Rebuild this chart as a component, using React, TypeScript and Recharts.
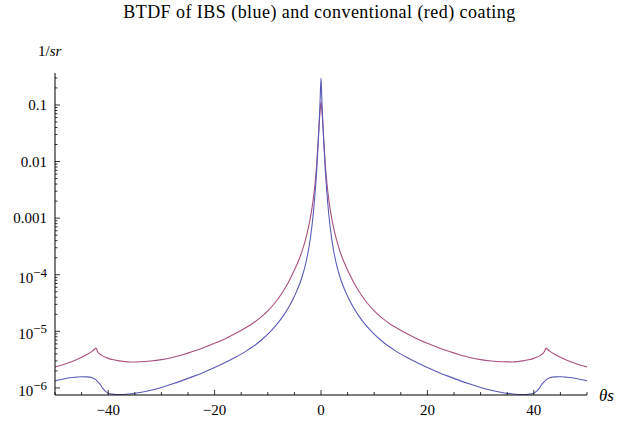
import React from 'react';
import { LineChart, Line, XAxis, YAxis } from 'recharts';

// scattering angle, degrees
const angles = [
  -50, -48, -46, -45, -44, -43, -42.6, -42.3, -42, -41.5,
  -41, -40.5, -40, -39, -38, -37, -36, -34, -32, -30,
  -28, -26, -24, -22, -20, -18, -16, -14, -13, -12,
  -11, -10, -9, -8, -7, -6, -5, -4, -3.5, -3,
  -2.5, -2, -1.5, -1, -0.8, -0.5, -0.3, -0.15, 0,
  0.15, 0.3, 0.5, 0.8, 1, 1.5, 2, 2.5, 3, 3.5,
  4, 5, 6, 7, 8, 9, 10, 11, 12, 13,
  14, 16, 18, 20, 22, 24, 26, 28, 30, 32,
  34, 36, 37, 38, 39, 40, 40.5, 41, 41.5, 42,
  42.3, 42.6, 43, 44, 45, 46, 48, 50,
];

// conventional coating (red), 1/sr
const conventional = [
  2.35e-6, 2.68e-6, 3.15e-6, 3.47e-6, 3.89e-6, 4.47e-6, 4.77e-6, 5.05e-6, 4.41e-6, 3.91e-6,
  3.65e-6, 3.47e-6, 3.33e-6, 3.14e-6, 3.01e-6, 2.93e-6, 2.88e-6, 2.9e-6, 2.99e-6, 3.16e-6,
  3.44e-6, 3.86e-6, 4.43e-6, 5.17e-6, 6.14e-6, 7.43e-6, 9.22e-6, 1.18e-5, 1.35e-5, 1.58e-5,
  1.88e-5, 2.3e-5, 2.92e-5, 3.84e-5, 5.32e-5, 7.77e-5, 1.21e-4, 2.0e-4, 2.72e-4, 3.88e-4,
  5.94e-4, 1.01e-3, 2.01e-3, 5.34e-3, 9.07e-3, 0.0256, 0.0543, 0.0816, 0.113,
  0.0816, 0.0543, 0.0256, 9.07e-3, 5.34e-3, 2.01e-3, 1.01e-3, 5.94e-4, 3.88e-4, 2.72e-4,
  2.0e-4, 1.21e-4, 7.77e-5, 5.32e-5, 3.84e-5, 2.92e-5, 2.3e-5, 1.88e-5, 1.58e-5, 1.35e-5,
  1.18e-5, 9.22e-6, 7.43e-6, 6.14e-6, 5.17e-6, 4.43e-6, 3.86e-6, 3.44e-6, 3.16e-6, 2.99e-6,
  2.9e-6, 2.88e-6, 2.93e-6, 3.01e-6, 3.14e-6, 3.33e-6, 3.47e-6, 3.65e-6, 3.91e-6, 4.41e-6,
  5.05e-6, 4.77e-6, 4.47e-6, 3.89e-6, 3.47e-6, 3.15e-6, 2.68e-6, 2.35e-6,
];

// IBS coating (blue), 1/sr
const ibs = [
  1.33e-6, 1.47e-6, 1.55e-6, 1.58e-6, 1.57e-6, 1.51e-6, 1.45e-6, 1.39e-6, 1.3e-6, 1.15e-6,
  9.8e-7, 8.68e-7, 8.09e-7, 7.74e-7, 7.64e-7, 7.67e-7, 7.83e-7, 8.33e-7, 9.11e-7, 1.02e-6,
  1.17e-6, 1.36e-6, 1.6e-6, 1.9e-6, 2.29e-6, 2.81e-6, 3.52e-6, 4.52e-6, 5.22e-6, 6.11e-6,
  7.31e-6, 8.96e-6, 1.12e-5, 1.44e-5, 1.93e-5, 2.74e-5, 4.17e-5, 6.93e-5, 9.6e-5, 1.41e-4,
  2.3e-4, 4.41e-4, 1.08e-3, 3.81e-3, 7.19e-3, 0.0244, 0.0596, 0.133, 0.3,
  0.133, 0.0596, 0.0244, 7.19e-3, 3.81e-3, 1.08e-3, 4.41e-4, 2.3e-4, 1.41e-4, 9.6e-5,
  6.93e-5, 4.17e-5, 2.74e-5, 1.93e-5, 1.44e-5, 1.12e-5, 8.96e-6, 7.31e-6, 6.11e-6, 5.22e-6,
  4.52e-6, 3.52e-6, 2.81e-6, 2.29e-6, 1.9e-6, 1.6e-6, 1.36e-6, 1.17e-6, 1.02e-6, 9.11e-7,
  8.33e-7, 7.83e-7, 7.67e-7, 7.64e-7, 7.74e-7, 8.09e-7, 8.68e-7, 9.8e-7, 1.15e-6, 1.3e-6,
  1.39e-6, 1.45e-6, 1.51e-6, 1.57e-6, 1.58e-6, 1.55e-6, 1.47e-6, 1.33e-6,
];

const yMajorTicks = [0.1, 0.01, 0.001, 1e-4, 1e-5, 1e-6];
const yMajorLabels = ['0.1', '0.01', '0.001', '10|\u22124', '10|\u22125', '10|\u22126'];
const yMinorSteps = [2, 3, 4, 5, 6, 7, 8, 9];
const xTicks = [-50, -45, -40, -35, -30, -25, -20, -15, -10, -5, 0, 5, 10, 15, 20, 25, 30, 35, 40, 45, 50];
const xLabelled = [-40, -20, 0, 20, 40];

const Y_DOMAIN: [number, number] = [7.5e-7, 0.367];

const data = angles.map((a, i) => ({ theta: a, red: conventional[i], blue: ibs[i] }));

const yTicks = [
  ...yMajorTicks,
  ...yMajorTicks.flatMap(d => yMinorSteps.map(m => m * d)),
].filter(v => v >= Y_DOMAIN[0] && v <= Y_DOMAIN[1]);

const FONT = '"Liberation Serif", "Times New Roman", serif';

const YTick = ({ x, y, payload }: any) => {
  const idx = yMajorTicks.indexOf(payload.value);
  if (idx < 0) {
    return <line x1={x} x2={x + 2.5} y1={y} y2={y} stroke="#000" strokeWidth={0.8} />;
  }
  const [base, sup] = yMajorLabels[idx].split('|');
  return (
    <g>
      <line x1={x} x2={x + 5} y1={y} y2={y} stroke="#000" strokeWidth={0.8} />
      <text x={x - 8} y={y} textAnchor="end" fontFamily={FONT} fontSize={15} fill="#000">
        {sup ? (
          <>
            <tspan dy={8}>{base}</tspan>
            <tspan dy={-6} fontSize={13}>{sup}</tspan>
          </>
        ) : (
          <tspan dy={5}>{base}</tspan>
        )}
      </text>
    </g>
  );
};

const XTick = ({ x, y, payload }: any) => {
  const v = payload.value;
  const major = xLabelled.includes(v);
  return (
    <g>
      <line x1={x} x2={x} y1={y} y2={y - (major ? 5 : 3)} stroke="#000" strokeWidth={0.8} />
      {major && (
        <text x={x} y={y + 20} textAnchor="middle" fontFamily={FONT} fontSize={15} fill="#000">
          {v < 0 ? `\u2212${Math.abs(v)}` : `${v}`}
        </text>
      )}
    </g>
  );
};

export default function App() {
  return (
    <div style={{ position: 'absolute', left: 0, top: 0, width: 625, height: 421, background: '#fff', fontFamily: FONT }}>
      <div style={{ position: 'absolute', left: 0, width: 625, top: 2, textAlign: 'center', fontSize: 18, letterSpacing: 0.45, color: '#000', paddingLeft: 14, boxSizing: 'border-box' }}>
        BTDF of IBS (blue) and conventional (red) coating
      </div>
      <div style={{ position: 'absolute', left: 38, top: 43, fontSize: 15, color: '#000' }}>
        1/<i>sr</i>
      </div>
      <div style={{ position: 'absolute', left: 599, top: 386, fontSize: 17, color: '#000' }}>
        <i>{'\u03b8s'}</i>
      </div>
      <LineChart
        width={625}
        height={421}
        data={data}
        margin={{ top: 73, right: 38, bottom: 1, left: 5 }}
      >
        <XAxis
          dataKey="theta"
          type="number"
          domain={[-50, 50]}
          ticks={xTicks}
          interval={0}
          tick={<XTick />}
          tickLine={false}
          tickSize={0}
          tickMargin={0}
          height={25}
          axisLine={{ stroke: '#000', strokeWidth: 1 }}
          allowDataOverflow
        />
        <YAxis
          type="number"
          scale="log"
          domain={Y_DOMAIN}
          ticks={yTicks}
          interval={0}
          tick={<YTick />}
          tickLine={false}
          tickSize={0}
          tickMargin={0}
          width={50}
          axisLine={{ stroke: '#000', strokeWidth: 1 }}
          allowDataOverflow
        />
        <Line
          dataKey="red"
          type="monotone"
          stroke="#a8507f"
          strokeWidth={1.1}
          dot={false}
          isAnimationActive={false}
        />
        <Line
          dataKey="blue"
          type="monotone"
          stroke="#5a5ab8"
          strokeWidth={1.1}
          dot={false}
          isAnimationActive={false}
        />
      </LineChart>
    </div>
  );
}
